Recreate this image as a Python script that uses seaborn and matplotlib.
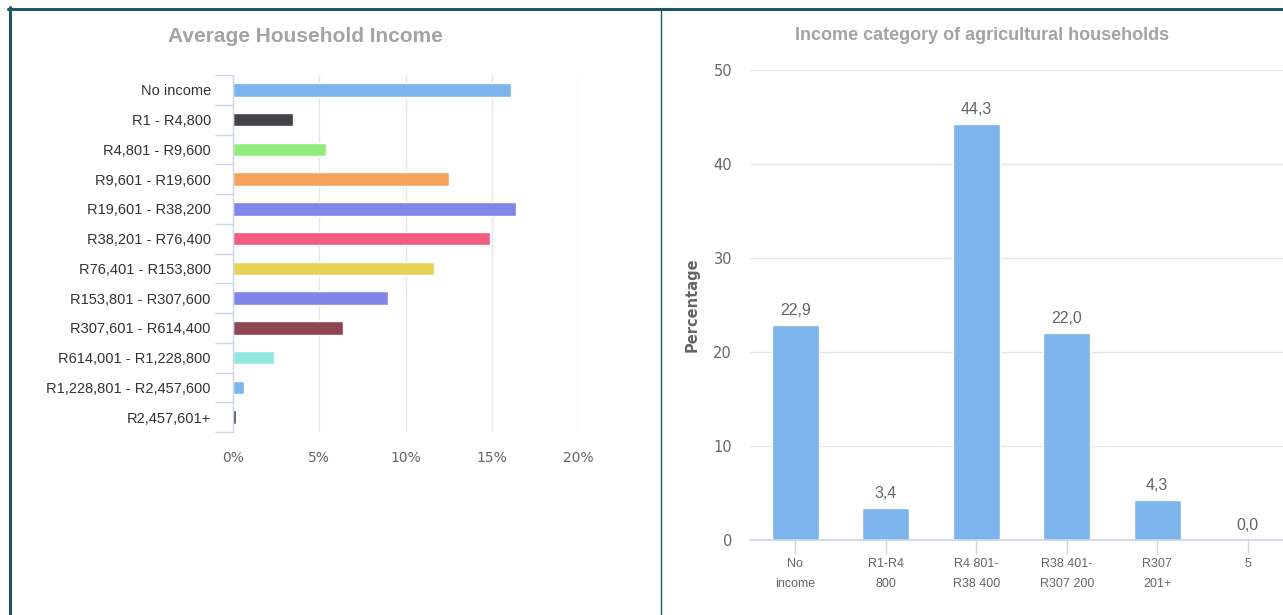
import numpy as np
import matplotlib
matplotlib.use('Agg')
import matplotlib.pyplot as plt
import pandas as pd
import seaborn as sns

# left chart: share of households per income band (%)
income_bands = ['No income', 'R1 - R4,800', 'R4,801 - R9,600', 'R9,601 - R19,600',
                'R19,601 - R38,200', 'R38,201 - R76,400', 'R76,401 - R153,800',
                'R153,801 - R307,600', 'R307,601 - R614,400', 'R614,001 - R1,228,800',
                'R1,228,801 - R2,457,600', 'R2,457,601+']
band_share = [16.1, 3.5, 5.4, 12.5, 16.4, 14.9, 11.65, 9.0, 6.4, 2.4, 0.65, 0.15]
band_colors = ['#7cb5ec', '#434348', '#90ed7d', '#f7a35c', '#8085e9', '#f15c80',
               '#e4d354', '#8085e8', '#8d4653', '#91e8e1', '#7cb5ec', '#434348']
left_xticks = [0, 5, 10, 15, 20]

# right chart: income category of agricultural households (%)
agri_cats = ['No\nincome', 'R1-R4\n800', 'R4 801-\nR38 400', 'R38 401-\nR307 200', 'R307\n201+', '5']
agri_pct = [22.9, 3.4, 44.3, 22.0, 4.3, 0.0]
right_yticks = [0, 10, 20, 30, 40, 50]

sns.set_theme(style='white')
plt.rcParams['font.family'] = ['Liberation Sans', 'DejaVu Sans']

W, H = 1283, 615
fig = plt.figure(figsize=(W / 100, H / 100), dpi=100)

def box(x0, y0, x1, y1):
    # pixel box (top-left origin) -> figure fraction
    return [x0 / W, 1 - y1 / H, (x1 - x0) / W, (y1 - y0) / H]

title_font = ['Liberation Sans Narrow', 'Liberation Sans', 'DejaVu Sans']
grid_c = '#e6e6e6'
axis_c = '#ccd6eb'
text_c = '#666666'

# ---- left chart
ax1 = fig.add_axes(box(233, 75, 578, 432))
df1 = pd.DataFrame({'band': income_bands, 'share': band_share})
sns.barplot(data=df1, y='band', x='share', hue='band', palette=band_colors,
            order=income_bands, hue_order=income_bands, width=0.45,
            legend=False, ax=ax1, saturation=1)
ax1.set_xlim(0, 20)
ax1.set_ylim(len(income_bands) - 0.5, -0.5)
ax1.set_xticks(left_xticks)
ax1.set_xticklabels([f'{t}%' for t in left_xticks], color=text_c, fontsize=10,
                    family=['DejaVu Sans'])
ax1.tick_params(axis='x', length=0, pad=14)
ax1.tick_params(axis='y', length=0, pad=16, labelsize=10.5, labelcolor='#333333')
ax1.set_yticks(np.arange(-0.5, len(income_bands)), minor=True)
ax1.tick_params(axis='y', which='minor', length=13, width=1, color=axis_c, left=True)
ax1.set_xlabel('')
ax1.set_ylabel('')
for s in ['top', 'right', 'bottom']:
    ax1.spines[s].set_visible(False)
ax1.spines['left'].set_color(axis_c)
ax1.spines['left'].set_linewidth(1)
ax1.xaxis.grid(True, color=grid_c, linewidth=1)
ax1.set_axisbelow(True)
fig.text(305 / W, 1 - 36 / H, 'Average Household Income', ha='center', va='center',
         fontsize=15, fontweight='bold', color='#a3a3a3', family=title_font)

# ---- right chart
ax2 = fig.add_axes(box(750, 70, 1293, 540))
df2 = pd.DataFrame({'cat': agri_cats, 'pct': agri_pct})
sns.barplot(data=df2, x='cat', y='pct', color='#7cb5ec', saturation=1,
            width=0.52, ax=ax2, order=agri_cats)
ax2.set_ylim(0, 50)
ax2.set_xlim(-0.5, len(agri_cats) - 0.5)
ax2.set_yticks(right_yticks)
ax2.set_yticklabels([str(t) for t in right_yticks], color=text_c, fontsize=10.5,
                    family=['DejaVu Sans'])
ax2.tick_params(axis='y', length=0, pad=13)
ax2.set_xticks(range(len(agri_cats)))
ax2.set_xticklabels(agri_cats, color=text_c, fontsize=9, linespacing=1.9)
ax2.tick_params(axis='x', length=10, width=1, color=axis_c, bottom=True, pad=3)
ax2.set_xlabel('')
ax2.set_ylabel('Percentage', color=text_c, fontsize=10.5, fontweight='bold', labelpad=10,
               family=['DejaVu Sans'])
for s in ['top', 'right', 'left']:
    ax2.spines[s].set_visible(False)
ax2.spines['bottom'].set_color(axis_c)
ax2.yaxis.grid(True, color=grid_c, linewidth=1)
ax2.set_axisbelow(True)
ax2.bar_label(ax2.containers[0], labels=[f'{v:.1f}'.replace('.', ',') for v in agri_pct],
              padding=5, color=text_c, fontsize=11.5, family=title_font)
fig.text(982 / W, 1 - 35 / H, 'Income category of agricultural households', ha='center',
         va='center', fontsize=13, fontweight='bold', color='#a3a3a3', family=title_font)

# ---- dark frame lines
frame_c = '#1d5662'
fig.add_artist(plt.Line2D([8 / W, 1], [1 - 8.5 / H, 1 - 8.5 / H], color=frame_c,
                          linewidth=2.2, transform=fig.transFigure))
fig.add_artist(plt.Line2D([9.5 / W, 9.5 / W], [0, 1 - 7 / H], color=frame_c,
                          linewidth=2.2, transform=fig.transFigure))
fig.add_artist(plt.Line2D([661 / W, 661 / W], [0, 1 - 9 / H], color=frame_c,
                          linewidth=1, transform=fig.transFigure))

fig.savefig('out.png', dpi=100)
